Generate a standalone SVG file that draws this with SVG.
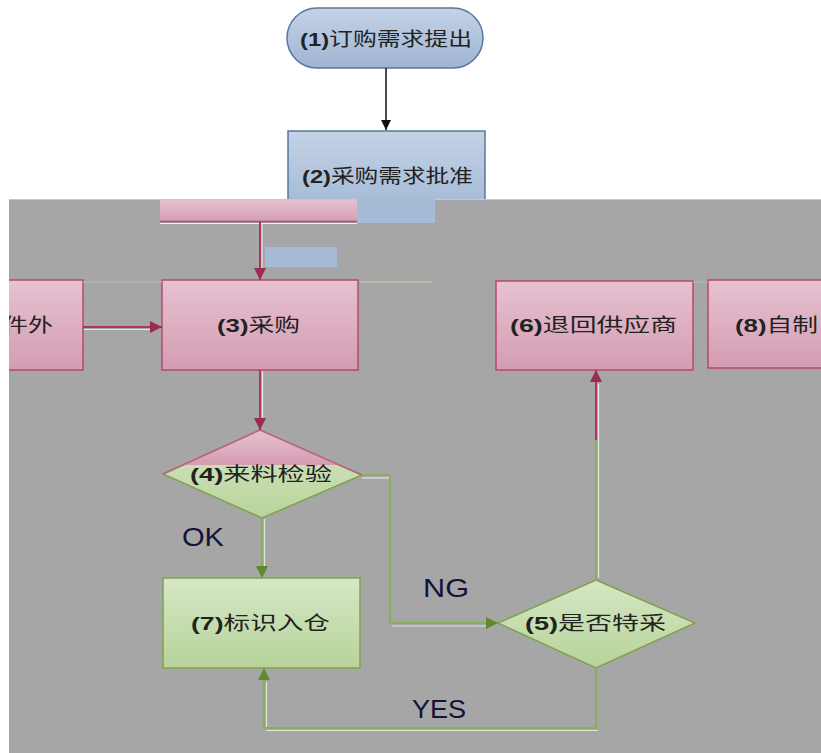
<svg xmlns="http://www.w3.org/2000/svg" width="821" height="753" viewBox="0 0 821 753">
<style>
.t{font-family:"Liberation Sans","Noto Sans CJK SC",sans-serif;font-size:19px;fill:#222;}
.b{font-weight:bold;}
.lat{font-family:"Liberation Sans",sans-serif;font-size:25px;fill:#14143a;}
.pink{fill:url(#gp);stroke:#b8486c;stroke-width:1.5;}
.green{fill:url(#gg);stroke:#7fa34f;stroke-width:1.5;}
.blue{fill:url(#gb);stroke:#56779f;stroke-width:1.5;}
.cp{fill:none;stroke:#a8385f;stroke-width:2;}
.cg{fill:none;stroke:#8aae5c;stroke-width:2;}
.ck{fill:none;stroke:#111;stroke-width:1.5;}
.sh{fill:none;stroke:#f2f2f2;stroke-width:1.2;opacity:0.8;}
</style>
<defs>
<linearGradient id="gp" x1="0" y1="0" x2="0" y2="1"><stop offset="0" stop-color="#e6c2d1"/><stop offset="1" stop-color="#d49cb2"/></linearGradient>
<linearGradient id="gg" x1="0" y1="0" x2="0" y2="1"><stop offset="0" stop-color="#d6e7c5"/><stop offset="1" stop-color="#b7d39a"/></linearGradient>
<linearGradient id="gb" x1="0" y1="0" x2="0" y2="1"><stop offset="0" stop-color="#c4d3e6"/><stop offset="1" stop-color="#9fb5d2"/></linearGradient>
<marker id="ap" viewBox="0 0 10 10" refX="10" refY="5" markerWidth="14" markerHeight="12" markerUnits="userSpaceOnUse" orient="auto"><path d="M0,0 L10,5 L0,10 z" fill="#9c2c55"/></marker>
<marker id="ag" viewBox="0 0 10 10" refX="10" refY="5" markerWidth="14" markerHeight="12" markerUnits="userSpaceOnUse" orient="auto"><path d="M0,0 L10,5 L0,10 z" fill="#5f8a2a"/></marker>
<marker id="ak" viewBox="0 0 10 10" refX="10" refY="5" markerWidth="14" markerHeight="10" markerUnits="userSpaceOnUse" orient="auto"><path d="M0,0 L10,5 L0,10 z" fill="#111"/></marker>
<clipPath id="clipL"><rect x="9" y="199" width="812" height="554"/></clipPath>
</defs>
<rect x="0" y="0" width="821" height="753" fill="#ffffff"/>
<g id="n1">
<rect class="blue" x="287" y="8" width="196" height="60" rx="30" ry="30"/>
<text class="t" x="300" y="46" textLength="172" lengthAdjust="spacingAndGlyphs"><tspan class="b">(1)</tspan>订购需求提出</text>
</g>
<g id="n2">
<rect class="blue" x="288" y="131" width="197" height="90"/>
<text class="t" x="302" y="183" textLength="171" lengthAdjust="spacingAndGlyphs"><tspan class="b">(2)</tspan>采购需求批准</text>
</g>
<g id="c12">
<line class="ck" x1="386" y1="68" x2="386" y2="130" marker-end="url(#ak)"/>
</g>
<g id="backdrop">
<rect x="9" y="199" width="812" height="554" fill="#a6a6a6"/>
<line x1="9" y1="199.5" x2="821" y2="199.5" stroke="#c8c8c8" stroke-width="1"/>
<rect x="160" y="200" width="197" height="22" fill="url(#gp)"/>
<line x1="160" y1="221.5" x2="357" y2="221.5" stroke="#b8486c" stroke-width="1.5"/>
<line x1="160" y1="223.5" x2="357" y2="223.5" stroke="#f2f2f2" stroke-width="1"/>
<rect x="357" y="199" width="78" height="24" fill="#a6bcd6"/>
<rect x="265" y="247" width="72" height="20" fill="#a4bad6"/>
</g>
<g id="n9">
<rect class="pink" x="-20" y="280" width="103" height="90" clip-path="url(#clipL)"/>
<text class="t" x="3" y="332" textLength="50" lengthAdjust="spacingAndGlyphs" clip-path="url(#clipL)">件外</text>
</g>
<g id="n3">
<rect class="pink" x="162" y="280" width="196" height="90"/>
<text class="t" x="217" y="332" textLength="83" lengthAdjust="spacingAndGlyphs"><tspan class="b">(3)</tspan>采购</text>
</g>
<g id="n6">
<rect class="pink" x="496" y="281" width="197" height="89"/>
<text class="t" x="510" y="332" textLength="167" lengthAdjust="spacingAndGlyphs"><tspan class="b">(6)</tspan>退回供应商</text>
</g>
<g id="n8">
<rect class="pink" x="708" y="280" width="130" height="88"/>
<text class="t" x="735" y="332" textLength="83" lengthAdjust="spacingAndGlyphs"><tspan class="b">(8)</tspan>自制</text>
</g>
<g id="n4">
<polygon class="green" points="260,430 362,475 262,518 163,474"/>
<polygon points="260,430 341,465 183,465" fill="url(#gp)"/>
<polyline points="163,474 260,430 362,475" fill="none" stroke="#c0607f" stroke-width="1.5"/>
<text class="t" x="190" y="481" textLength="142" lengthAdjust="spacingAndGlyphs"><tspan class="b">(4)</tspan>来料检验</text>
</g>
<g id="n7">
<rect class="green" x="163" y="578" width="197" height="90"/>
<text class="t" x="191" y="630" textLength="139" lengthAdjust="spacingAndGlyphs"><tspan class="b">(7)</tspan>标识入仓</text>
</g>
<g id="n5">
<polygon class="green" points="596,580 695,623 596,668 498,623"/>
<text class="t" x="525" y="630" textLength="141" lengthAdjust="spacingAndGlyphs"><tspan class="b">(5)</tspan>是否特采</text>
</g>
<g id="connectors">
<line x1="83" y1="282" x2="162" y2="282" stroke="#a9bcd2" stroke-width="1"/>
<line x1="360" y1="282" x2="432" y2="282" stroke="#c6d6a8" stroke-width="1"/>
<line x1="693" y1="282" x2="708" y2="282" stroke="#a9bcd2" stroke-width="1"/>
<line class="sh" x1="262" y1="223" x2="262" y2="268"/>
<line class="cp" x1="260" y1="222" x2="260" y2="280" marker-end="url(#ap)"/>
<line class="sh" x1="84" y1="329.5" x2="150" y2="329.5"/>
<line class="cp" x1="83" y1="327" x2="162" y2="327" marker-end="url(#ap)"/>
<line class="sh" x1="262.5" y1="371" x2="262.5" y2="418"/>
<line class="cp" x1="260" y1="370" x2="260" y2="430" marker-end="url(#ap)"/>
<line class="sh" x1="264.5" y1="519" x2="264.5" y2="566"/>
<line class="cg" x1="262" y1="518" x2="262" y2="578" marker-end="url(#ag)"/>
<polyline class="sh" points="362,478 390,478"/>
<polyline class="sh" points="392,626 486,626"/>
<polyline class="cg" points="362,475 390,475 390,623 498,623" marker-end="url(#ag)"/>
<line class="sh" x1="598.5" y1="578" x2="598.5" y2="384"/>
<line class="cg" x1="596" y1="580" x2="596" y2="440"/>
<line class="cp" x1="596" y1="440" x2="596" y2="370" marker-end="url(#ap)"/>
<polyline class="sh" points="266,730.5 598,730.5"/>
<polyline class="sh" points="266.5,728 266.5,682"/>
<polyline class="cg" points="596,668 596,728 264,728 264,668" marker-end="url(#ag)"/>
</g>
<g id="labels">
<text class="lat" x="182" y="546" textLength="42" lengthAdjust="spacingAndGlyphs">OK</text>
<text class="lat" x="423" y="597" textLength="46" lengthAdjust="spacingAndGlyphs">NG</text>
<text class="lat" x="412" y="718" textLength="54" lengthAdjust="spacingAndGlyphs">YES</text>
</g>
</svg>
